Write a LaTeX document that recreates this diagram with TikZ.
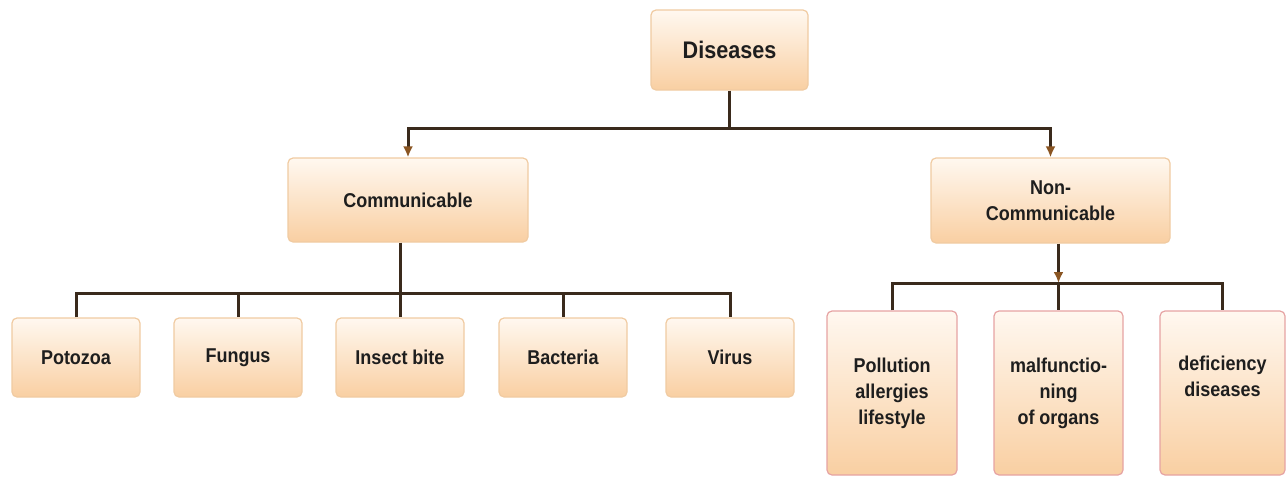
\documentclass[tikz,border=0pt]{standalone}
\usepackage{fontspec}
\setmainfont{Liberation Sans}[FakeStretch=0.9]
\usetikzlibrary{arrows.meta}
\definecolor{boxtop}{HTML}{FFF8F0}
\definecolor{boxbot}{HTML}{F9CFA2}
\definecolor{edgeor}{HTML}{F0CBA2}
\definecolor{edgepk}{HTML}{E6A3A3}
\definecolor{linec}{HTML}{3A2A1C}
\definecolor{tipc}{HTML}{8A5522}
\definecolor{txt}{HTML}{1E1E1E}
\begin{document}
\begin{tikzpicture}[x=1pt,y=-1pt,
  box/.style={draw=edgeor, line width=1.2pt, rounded corners=5pt,
    top color=boxtop, bottom color=boxbot, inner sep=0pt, align=center,
    text=txt, font=\bfseries\fontsize{20}{26}\selectfont},
  pbox/.style={box, draw=edgepk},
  conn/.style={draw=linec, line width=3pt},
  arr/.style={-{Latex[length=11pt,width=10pt,color=tipc]}}
]
\useasboundingbox (0,0) rectangle (1286,477);

% nodes
\node[box, minimum width=157pt, minimum height=80pt,
      font=\bfseries\fontsize{24}{28}\selectfont] (dis) at (729.5,50) {Diseases};
\node[box, minimum width=240pt, minimum height=84pt] (com) at (408,200) {Communicable};
\node[box, minimum width=239pt, minimum height=85pt] (nc) at (1050.5,200.5) {Non-\\Communicable};

\node[box, minimum width=128pt, minimum height=79pt] (pot) at (76,357.5) {Potozoa};
\node[box, minimum width=128pt, minimum height=79pt] (fun) at (238,357.5) {Fungus};
\node[box, minimum width=128pt, minimum height=79pt] (ins) at (400,357.5) {Insect bite};
\node[box, minimum width=128pt, minimum height=79pt] (bac) at (563,357.5) {Bacteria};
\node[box, minimum width=128pt, minimum height=79pt] (vir) at (730,357.5) {Virus};

\node[pbox, minimum width=130pt, minimum height=164pt] (pol) at (892,393) {Pollution\\allergies\\lifestyle};
\node[pbox, minimum width=129pt, minimum height=164pt] (mal) at (1058.5,393) {malfunctio-\\ning\\of organs};
\node[pbox, minimum width=125pt, minimum height=164pt] (def) at (1222.5,393) {deficiency\\diseases\\\strut};

% connectors: top level
\coordinate (j1) at (729.5,128);
\draw[conn] (dis.south) -- (j1);
\draw[conn, arr] (j1) -| (com.north);
\draw[conn, arr] (j1) -| (nc.north);

% communicable branch
\coordinate (h2) at (400,293);
\draw[conn] (ins.north |- com.south) -- (ins.north);
\draw[conn] (pot.north) -- (pot.north |- h2) -- (vir.north |- h2) -- (vir.north);
\draw[conn] (fun.north |- h2) -- (fun.north);
\draw[conn] (bac.north |- h2) -- (bac.north);

% non-communicable branch
\coordinate (h3) at (1058.5,283);
\draw[conn, arr] (mal.north |- nc.south) -- (h3);
\draw[conn] (h3) -- (mal.north);
\draw[conn] (pol.north) -- (pol.north |- h3) -- (def.north |- h3) -- (def.north);
\end{tikzpicture}
\end{document}
